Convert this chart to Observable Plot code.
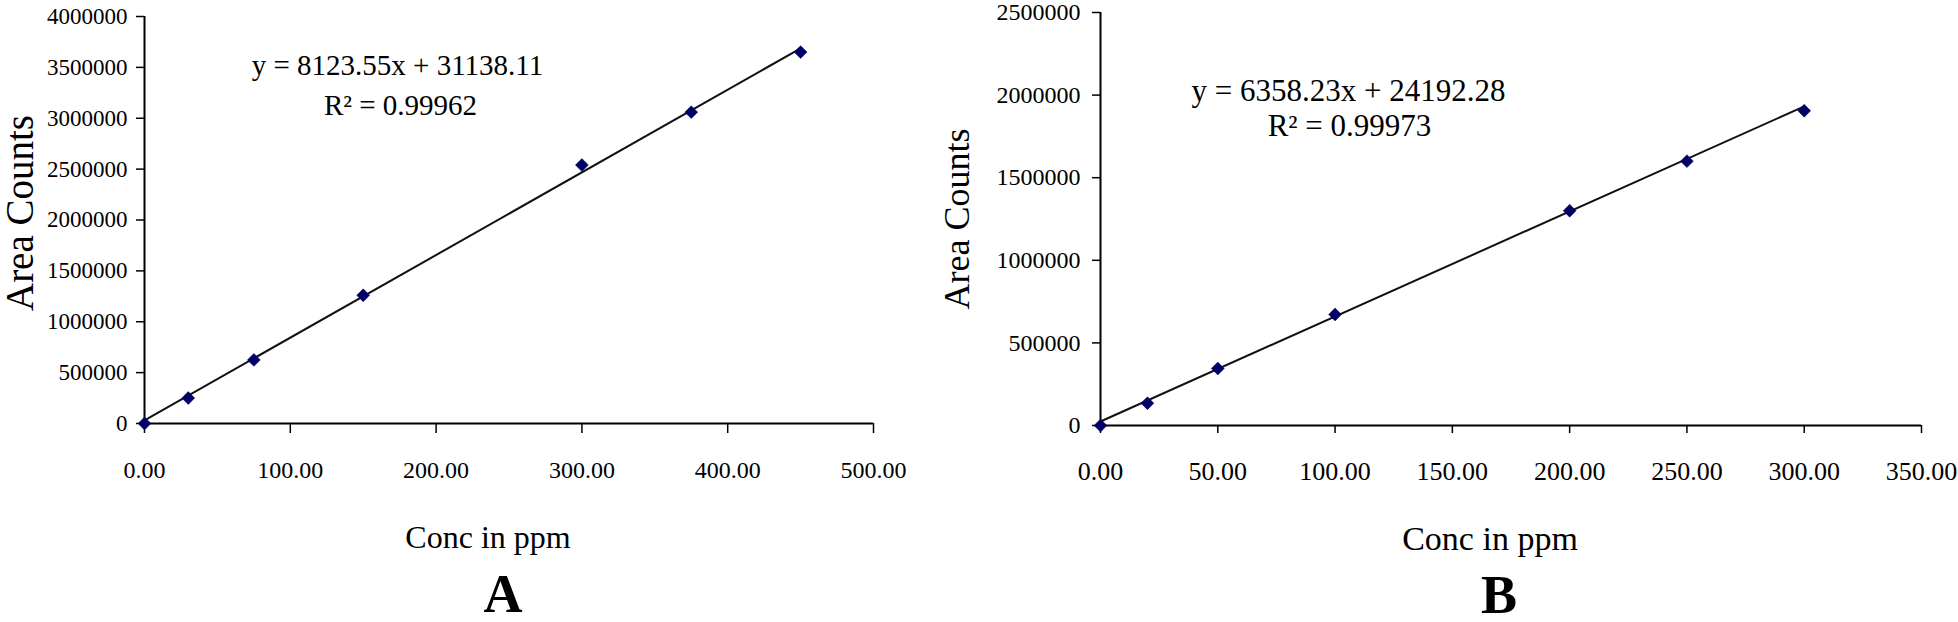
<!DOCTYPE html>
<html>
<head>
<meta charset="utf-8">
<script src="https://cdn.jsdelivr.net/npm/d3@7"></script>
<script src="https://cdn.jsdelivr.net/npm/@observablehq/plot@0.6"></script>
<style>
  html, body { margin: 0; padding: 0; background: #ffffff; }
  #wrap { display: flex; flex-direction: row; width: 1958px; height: 622px; overflow: hidden; }
  #wrap svg { display: block; }
</style>
</head>
<body>
<div id="wrap"></div>
<script>
// ---- Data ----
// Panel A
const concA = [0, 30, 75, 150, 300, 375, 450];
const areaA = [0, 250000, 625000, 1260000, 2540000, 3060000, 3650000];
const trendAx = [0, 450];
const trendAy = [31138, 3686736];
const xTicksA = [0, 100, 200, 300, 400, 500];
const yTicksA = [0, 500000, 1000000, 1500000, 2000000, 2500000, 3000000, 3500000, 4000000];
const eqA = "y = 8123.55x + 31138.11";
const r2A = "R\u00B2 = 0.99962";

// Panel B
const concB = [0, 20, 50, 100, 200, 250, 300];
const areaB = [0, 135000, 345000, 672000, 1300000, 1600000, 1905000];
const trendBx = [0, 300];
const trendBy = [24192, 1931661];
const xTicksB = [0, 50, 100, 150, 200, 250, 300, 350];
const yTicksB = [0, 500000, 1000000, 1500000, 2000000, 2500000];
const eqB = "y = 6358.23x + 24192.28";
const r2B = "R\u00B2 = 0.99973";

const xLabel = "Conc in ppm";
const yLabel = "Area Counts";
const panelA = "A";
const panelB = "B";

const FONT = "'Liberation Serif', 'Times New Roman', Times, serif";
const DOT = "#000066";

function panel(cfg) {
  const pts = cfg.x.map((v, i) => ({x: v, y: cfg.y[i]}));
  const trend = cfg.tx.map((v, i) => ({x: v, y: cfg.ty[i]}));
  return Plot.plot({
    width: cfg.width,
    height: 622,
    marginLeft: cfg.ml,
    marginRight: cfg.mr,
    marginTop: cfg.mt,
    marginBottom: cfg.mb,
    style: {fontFamily: FONT, background: "#ffffff", color: "#000"},
    x: {domain: cfg.xd, axis: null},
    y: {domain: cfg.yd, axis: null},
    marks: [
      Plot.axisY({ticks: cfg.yt, tickSize: 8, tickPadding: cfg.ytp, tickFormat: d => String(d),
        fontSize: cfg.yfs, fontFamily: FONT, stroke: "#000", strokeWidth: 1.5, fill: "#000", label: null}),
      Plot.axisX({ticks: cfg.xt, tickSize: cfg.xts, tickPadding: cfg.xtp, tickFormat: d => d.toFixed(2),
        fontSize: cfg.xfs, fontFamily: FONT, stroke: "#000", strokeWidth: 1.5, fill: "#000", label: null}),
      Plot.ruleX([0], {stroke: "#000", strokeWidth: 2}),
      Plot.ruleY([0], {stroke: "#000", strokeWidth: 2}),
      Plot.line(trend, {x: "x", y: "y", stroke: "#111", strokeWidth: 2}),
      Plot.dot(pts, {x: "x", y: "y", symbol: "diamond2", r: 5.8, fill: DOT, stroke: DOT, strokeWidth: 0.5}),
      Plot.text([cfg.eq], {frameAnchor: "top-left", dx: cfg.eqdx, dy: cfg.eqdy, text: d => d,
        textAnchor: "middle", lineAnchor: "middle", fontSize: cfg.eqfs, fontFamily: FONT, fill: "#000"}),
      Plot.text([cfg.r2], {frameAnchor: "top-left", dx: cfg.r2dx, dy: cfg.r2dy, text: d => d,
        textAnchor: "middle", lineAnchor: "middle", fontSize: cfg.eqfs, fontFamily: FONT, fill: "#000"}),
      Plot.text([yLabel], {frameAnchor: "left", dx: cfg.yldx, dy: cfg.yldy, rotate: -90, text: d => d,
        textAnchor: "middle", lineAnchor: "middle", fontSize: cfg.ylfs, fontFamily: FONT, fill: "#000"}),
      Plot.text([xLabel], {frameAnchor: "bottom", dx: cfg.xldx, dy: 114, text: d => d,
        textAnchor: "middle", lineAnchor: "middle", fontSize: cfg.xlfs, fontFamily: FONT, fill: "#000"}),
      Plot.text([cfg.panel], {frameAnchor: "bottom", dx: cfg.pdx, dy: cfg.pdy, text: d => d,
        textAnchor: "middle", lineAnchor: "middle", fontSize: 54, fontWeight: "bold", fontFamily: FONT, fill: "#000"})
    ]
  });
}

const a = panel({
  width: 930, ml: 144, mr: 57, mt: 16, mb: 199,
  xd: [0, 500], yd: [0, 4000000], xt: xTicksA, yt: yTicksA,
  x: concA, y: areaA, tx: trendAx, ty: trendAy,
  ytp: 9, yfs: 23, xts: 10, xtp: 27, xfs: 24,
  eq: eqA, r2: r2A, eqdx: 253, eqdy: 49, r2dx: 256, r2dy: 89, eqfs: 29,
  yldx: -124, yldy: -7, ylfs: 39,
  xldx: -21, xlfs: 32,
  panel: panelA, pdx: -6, pdy: 171
});
const b = panel({
  width: 1028, ml: 170, mr: 37, mt: 12, mb: 197,
  xd: [0, 350], yd: [0, 2500000], xt: xTicksB, yt: yTicksB,
  x: concB, y: areaB, tx: trendBx, ty: trendBy,
  ytp: 12, yfs: 24, xts: 8, xtp: 28, xfs: 26,
  eq: eqB, r2: r2B, eqdx: 248, eqdy: 79, r2dx: 249, r2dy: 114, eqfs: 31,
  yldx: -143, yldy: 0, ylfs: 36,
  xldx: -21, xlfs: 34,
  panel: panelB, pdx: -12, pdy: 170
});
document.getElementById("wrap").append(a, b);
</script>
</body>
</html>
